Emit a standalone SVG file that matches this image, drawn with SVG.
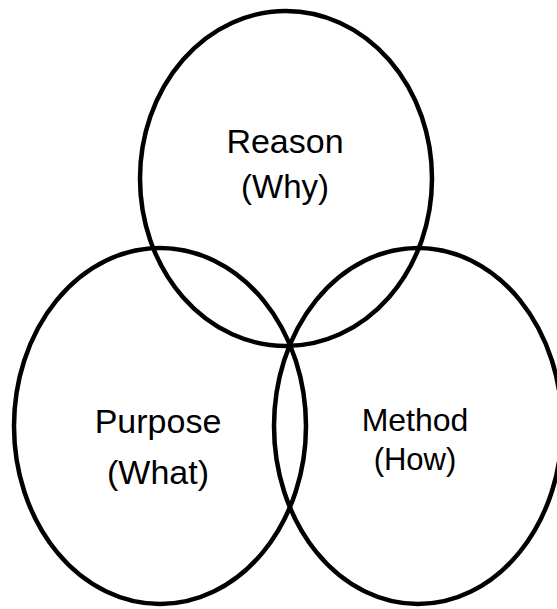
<svg xmlns="http://www.w3.org/2000/svg" width="557" height="609" viewBox="0 0 557 609">
<style>
.c{fill:none;stroke:#000;stroke-width:4.5}
.t{font-family:"Liberation Sans",Arial,sans-serif;fill:#000;text-anchor:middle}
</style>
<rect width="557" height="609" fill="#fff"/>
<g id="reason">
<ellipse class="c" cx="286" cy="178.5" rx="146" ry="167.5"/>
<text class="t" x="285" y="153" font-size="34">Reason</text>
<text class="t" x="285" y="198" font-size="33">(Why)</text>
</g>
<g id="purpose">
<ellipse class="c" cx="160" cy="426" rx="146" ry="178"/>
<text class="t" x="158" y="433" font-size="34">Purpose</text>
<text class="t" x="158" y="484" font-size="34">(What)</text>
</g>
<g id="method">
<ellipse class="c" cx="418" cy="426" rx="144" ry="178"/>
<text class="t" x="415" y="431" font-size="32">Method</text>
<text class="t" x="415" y="470" font-size="31">(How)</text>
</g>
<g id="connectors"/>
</svg>
